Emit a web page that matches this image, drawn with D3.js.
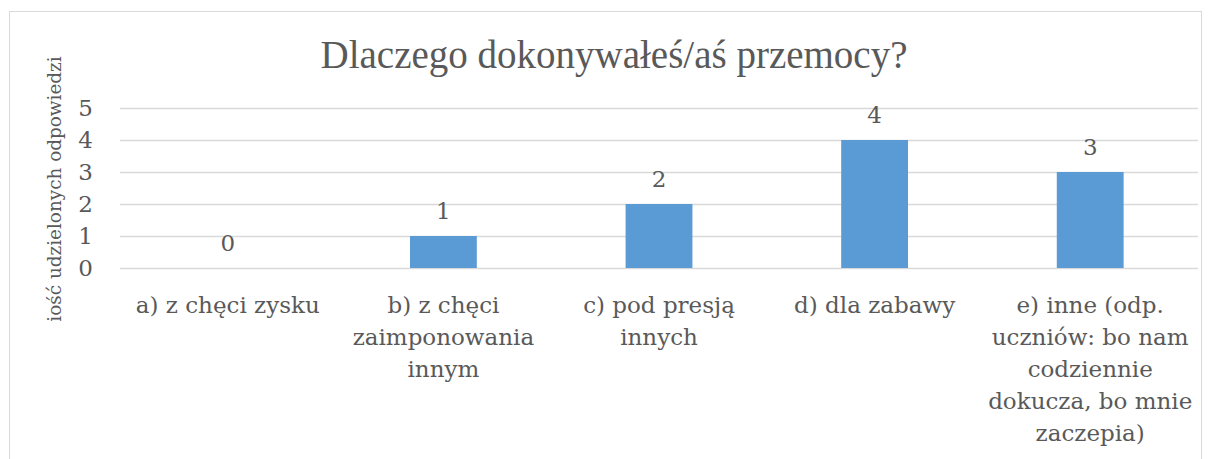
<!DOCTYPE html>
<html>
<head>
<meta charset="utf-8">
<script src="https://cdn.jsdelivr.net/npm/d3@7"></script>
<style>
  body { margin: 0; background: #fff; }
  svg text, svg tspan { font-family: "DejaVu Serif", serif; fill: #595959; }
  svg text.title { font-family: "Liberation Serif", serif; }
</style>
</head>
<body>
<svg id="chart" width="1212" height="459"></svg>
<script>
var categories = [
  ['a) z chęci zysku'],
  ['b) z chęci', 'zaimponowania', 'innym'],
  ['c) pod presją', 'innych'],
  ['d) dla zabawy'],
  ['e) inne (odp.', 'uczniów: bo nam', 'codziennie', 'dokucza, bo mnie', 'zaczepia)']
];
var values = [0, 1, 2, 4, 3];
var yTicks = [0, 1, 2, 3, 4, 5];
var title = 'Dlaczego dokonywałeś/aś przemocy?';
var yTitle = 'iość udzielonych odpowiedzi';

var svg = d3.select('#chart');
var WIDTH = 1212, HEIGHT = 459;
var M = {left: 120, right: 14, top: 108, bottom: 191};

// chart frame
svg.append('rect')
  .attr('x', 9.5).attr('y', 11.5)
  .attr('width', 1192).attr('height', 470)
  .attr('fill', 'none').attr('stroke', '#d9d9d9');

var keys = categories.map(function(d, i) { return i; });
var x = d3.scaleBand().domain(keys).range([M.left, WIDTH - M.right]).paddingInner(0.69).paddingOuter(0.345);
var xb = d3.scaleBand().domain(keys).range([M.left, WIDTH - M.right]);
var y = d3.scaleLinear().domain([0, 5]).range([HEIGHT - M.bottom, M.top]);

// gridlines
svg.append('g').selectAll('line').data(yTicks).enter().append('line')
  .attr('x1', M.left).attr('x2', WIDTH - M.right)
  .attr('y1', function(d) { return y(d) + 0.5; })
  .attr('y2', function(d) { return y(d) + 0.5; })
  .attr('stroke', '#d9d9d9').attr('stroke-width', 1.5);

var yAxis = svg.append('g')
  .attr('transform', 'translate(' + (M.left - 27) + ',0)')
  .call(d3.axisLeft(y).tickValues(yTicks).tickFormat(d3.format('d')).tickSize(0).tickPadding(0));
yAxis.select('.domain').remove();
yAxis.selectAll('text').attr('font-size', 23).attr('fill', '#595959');

// bars
svg.append('g').selectAll('rect').data(values).enter().append('rect')
  .attr('x', function(d, i) { return x(i); })
  .attr('y', function(d) { return y(d); })
  .attr('width', x.bandwidth())
  .attr('height', function(d) { return y(0) - y(d); })
  .attr('fill', '#5b9bd5');

// value labels
svg.append('g').selectAll('text').data(values).enter().append('text')
  .attr('x', function(d, i) { return xb(i) + xb.bandwidth() / 2; })
  .attr('y', function(d) { return y(d) - 17; })
  .attr('text-anchor', 'middle')
  .attr('font-size', 23)
  .text(function(d) { return d; });

// category labels
var cat = svg.append('g').selectAll('text').data(categories).enter().append('text')
  .attr('text-anchor', 'middle')
  .attr('font-size', 23)
  .attr('x', function(d, i) { return xb(i) + xb.bandwidth() / 2; })
  .attr('y', 313);
cat.selectAll('tspan').data(function(d) { return d; }).enter().append('tspan')
  .attr('x', function() { return d3.select(this.parentNode).attr('x'); })
  .attr('dy', function(d, i) { return i === 0 ? 0 : 32; })
  .text(function(d) { return d; });

// title
svg.append('text')
  .attr('class', 'title')
  .attr('x', 614).attr('y', 68)
  .attr('text-anchor', 'middle')
  .attr('font-size', 39)
  .text(title);

// y axis title
svg.append('text')
  .attr('transform', 'translate(61,189) rotate(-90)')
  .attr('text-anchor', 'middle')
  .attr('font-size', 18.4)
  .text(yTitle);
</script>
</body>
</html>
